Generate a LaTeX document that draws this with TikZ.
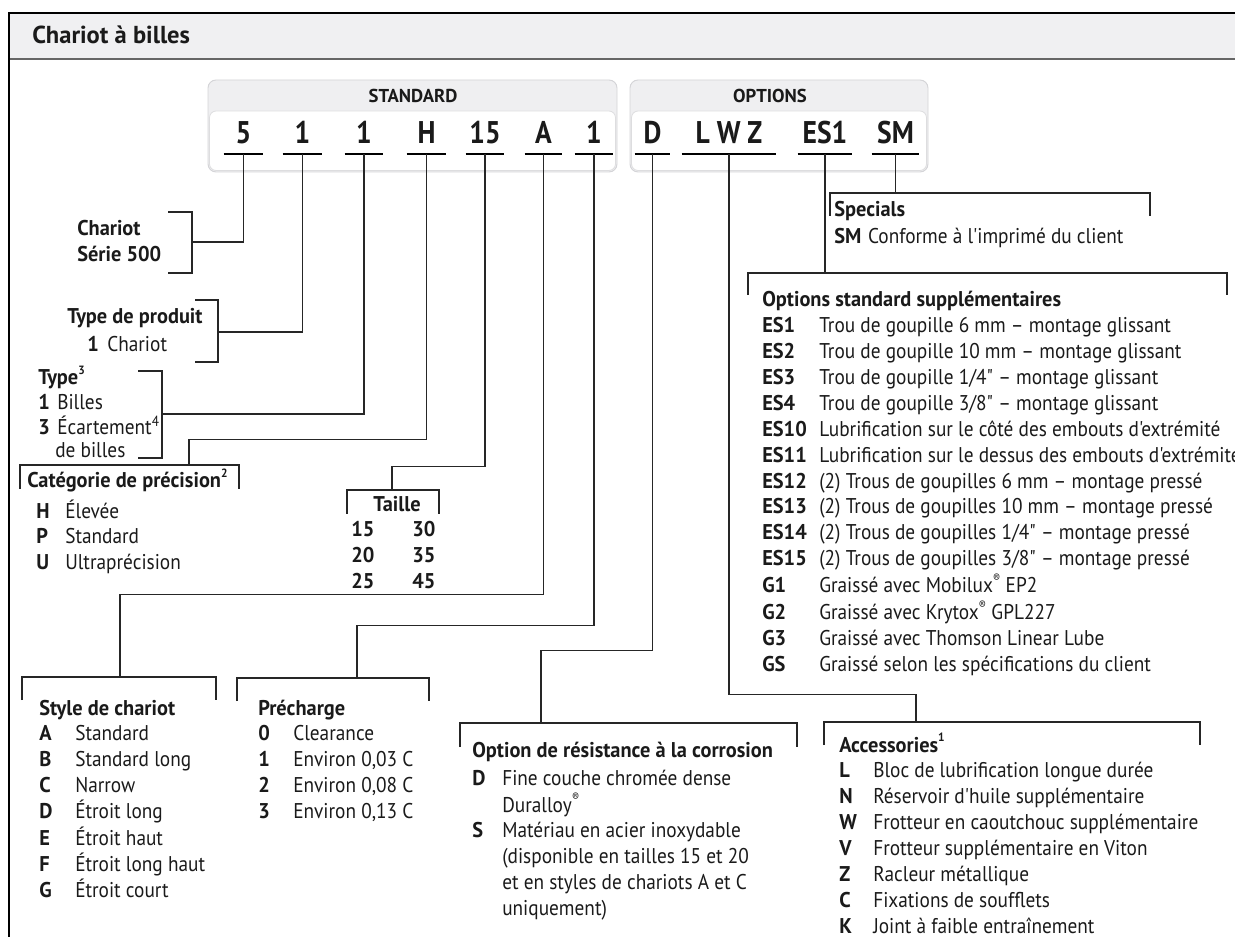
\documentclass[tikz,border=0pt]{standalone}
\usepackage{fontspec}
\setmainfont{PT Sans}[Ligatures=TeXOff,UprightFeatures={FakeStretch=0.905},BoldFeatures={FakeStretch=0.955}]
\newfontfamily\codefont{PT Sans}[Ligatures=TeXOff,FakeStretch=0.88]
\newfontfamily\titlefont{PT Sans Bold}[Ligatures=TeXOff]
\definecolor{barfill}{HTML}{F0F0F2}
\definecolor{boxfill}{HTML}{EFEFF1}
\definecolor{boxline}{HTML}{D4D4D7}
\definecolor{ink}{HTML}{1A1A1A}
\newcommand\LB[3]{\makebox[#1][l]{\bfseries #2}#3}
\newcommand\sups[1]{\raisebox{0.5em}{\fontsize{9}{9}\selectfont #1}}
\newcommand\supb[1]{\raisebox{0.42em}{\fontsize{11}{11}\selectfont #1}}
\newcommand\bodyfont{\fontsize{16}{19.4}\selectfont}
\tikzset{
  conn/.style={line width=0.8pt, draw=black!85},
  brk/.style={line width=0.8pt, draw=black!85},
  uline/.style={line width=1.4pt, draw=black},
  txt/.style={anchor=base west, inner sep=0pt, font=\bodyfont, text=ink},
  code/.style={anchor=base, inner sep=0pt, font=\fontsize{23.5}{28}\selectfont\codefont\bfseries, text=ink, text depth=7.5pt},
  hdr/.style={anchor=base, inner sep=0pt, font=\fontsize{14}{16}\selectfont\titlefont, text=ink},
  outerbox/.style={draw=boxline, fill=boxfill, rounded corners=6pt, line width=0.7pt},
  innerbox/.style={draw=boxline!80, fill=white, rounded corners=5pt, line width=0.6pt},
}
\begin{document}
\begin{tikzpicture}[x=0.75pt,y=-0.75pt]
\useasboundingbox (0,0) rectangle (1235,937);
% frame and title bar
\fill[barfill] (9,13) rectangle (1260,59);
\draw[black!60, line width=0.8pt] (9,59) -- (1260,59);
\draw[black, line width=1.8pt] (9,1000) -- (9,13) -- (1260,13);
\node[anchor=base west, inner sep=0pt, font=\fontsize{18.4}{22}\selectfont\titlefont, text=ink] (title) at (32,44) {Chariot à billes};

% code boxes
\draw[outerbox] (208,80) rectangle (617,172);
\draw[innerbox] (209.5,111) rectangle (615.5,170.5);
\draw[outerbox] (630,80) rectangle (928,172);
\draw[innerbox] (631.5,111) rectangle (926.5,170.5);
\node[hdr] (hstd) at (413,103) {STANDARD};
\node[hdr] (hopt) at (770,103) {OPTIONS};

% code characters
\node[code, minimum width=29.25pt] (c1) at (243.5,144) {5};
\node[code, minimum width=29.25pt] (c2) at (302.5,144) {1};
\node[code, minimum width=28.5pt] (c3) at (364,144) {1};
\node[code, minimum width=29.25pt] (c4) at (426.5,144) {H};
\node[code, minimum width=28.5pt] (c5) at (485,144) {15};
\node[code, minimum width=27.75pt] (c6) at (543.5,144) {A};
\node[code, minimum width=28.5pt] (c7) at (594,144) {1};
\node[code, minimum width=26.25pt] (c8) at (652.5,144) {D};
\node[code, minimum width=70.5pt] (c9) at (729,144) {L W Z};
\node[code, minimum width=40.5pt] (c10) at (825,144) {ES1};
\node[code, minimum width=35.25pt] (c11) at (895.5,144) {SM};
\foreach \c in {c1,c2,c3,c4,c5,c6,c7,c8,c9,c10,c11}
  \draw[uline] (\c.south west) -- (\c.south east);

% junction coordinates
\coordinate (j1) at (192,242);
\coordinate (j2) at (218,332);
\coordinate (j3) at (162,414);
\coordinate (j4) at (189,465);
\coordinate (j5) at (392,490);
\coordinate (j6) at (120,677);
\coordinate (j7) at (357,678);
\coordinate (j8) at (541,723);
\coordinate (j9) at (916,722);
\coordinate (j10) at (825,273);
\coordinate (j11) at (895.5,193);

% connectors
\draw[conn] (c1.south) |- (j1);
\draw[conn] (c2.south) |- (j2);
\draw[conn] (c3.south) |- (j3);
\draw[conn] (c4.south) -- ++(0,285) -| (j4);
\draw[conn] (c5.south) -- ++(0,312) -| (j5);
\draw[conn] (c6.south) -- ++(0,440) -| (j6);
\draw[conn] (c7.south) -- ++(0,471) -| (j7);
\draw[conn] (c8.south) -- ++(0,496) -| (j8);
\draw[conn] (c9.south) -- ++(0,540) -| (j9);
\draw[conn] (c10.south) -- (j10);
\draw[conn] (c11.south) -- (j11);

% brackets
\draw[brk] (168,212) -- (192,212) -- (192,273) -- (168,273);
\draw[brk] (195,300) -- (218,300) -- (218,362) -- (195,362);
\draw[brk] (138,371) -- (162,371) -- (162,458) -- (138,458);
\draw[brk] (20,489) -- (20,465) -- (239,465) -- (239,489);
\draw[brk] (347,514) -- (347,490) -- (439,490) -- (439,514);
\draw[brk] (22,700) -- (22,677) -- (216,677) -- (216,700);
\draw[brk] (237,701) -- (237,678) -- (429,678) -- (429,701);
\draw[brk] (460,747) -- (460,723) -- (797,723) -- (797,747);
\draw[brk] (824,745) -- (824,722) -- (1200,722) -- (1200,745);
\draw[brk] (748,295) -- (748,273) -- (1227,273) -- (1227,295);
\draw[brk] (830,216) -- (830,193) -- (1150,193) -- (1150,216);

% text blocks
\node[txt] (chariot) at (77,236) {\begin{tabular}[t]{@{}l@{}}\bfseries Chariot\\ \bfseries Série 500\end{tabular}};

\node[txt] (tp) at (67,324) {\bfseries Type de produit};
\node[txt] (tp1) at (87,352) {\LB{15pt}{1}{Chariot}};

\node[txt] (ty) at (38,385) {\bfseries Type\sups{3}};
\node[txt] (ty1) at (38,410) {\LB{14.25pt}{1}{Billes}};
\node[txt] (ty3) at (38,435) {\LB{14.25pt}{3}{Écartement\supb{4}}};
\node[txt] (ty3b) at (55,458) {de billes};

\node[txt] (cat) at (27,488) {\bfseries Catégorie de précision\sups{2}};
\node[txt] (catl) at (36,518) {\begin{tabular}[t]{@{}l@{}}\LB{21.75pt}{H}{Élevée}\\ \LB{21.75pt}{P}{Standard}\\ \LB{21.75pt}{U}{Ultraprécision}\end{tabular}};

\node[txt, anchor=base] (tai) at (397,512) {\bfseries Taille};
\node[txt] (tail) at (351,537) {\begin{tabular}[t]{@{}l@{}}\LB{45.75pt}{15}{\bfseries 30}\\ \LB{45.75pt}{20}{\bfseries 35}\\ \LB{45.75pt}{25}{\bfseries 45}\end{tabular}};

\node[txt] (sty) at (39,715) {\begin{tabular}[t]{@{}l@{}}\bfseries Style de chariot\\
 \LB{27pt}{A}{Standard}\\ \LB{27pt}{B}{Standard long}\\ \LB{27pt}{C}{Narrow}\\
 \LB{27pt}{D}{Étroit long}\\ \LB{27pt}{E}{Étroit haut}\\ \LB{27pt}{F}{Étroit long haut}\\
 \LB{27pt}{G}{Étroit court}\end{tabular}};

\node[txt] (pre) at (258,715) {\begin{tabular}[t]{@{}l@{}}\bfseries Précharge\\
 \LB{26.25pt}{0}{Clearance}\\ \LB{26.25pt}{1}{Environ 0,03 C}\\ \LB{26.25pt}{2}{Environ 0,08 C}\\
 \LB{26.25pt}{3}{Environ 0,13 C}\end{tabular}};

\node[txt] (cor) at (472,757) {\bfseries Option de résistance à la corrosion};
\node[txt] (corl) at (472,785) {\begin{tabular}[t]{@{}l@{}}\LB{22.5pt}{D}{Fine couche chromée dense}\\
 \LB{22.5pt}{}{Duralloy\sups{®}}\\ \LB{22.5pt}{S}{Matériau en acier inoxydable}\\
 \LB{22.5pt}{}{(disponible en tailles 15 et 20}\\ \LB{22.5pt}{}{et en styles de chariots A et C}\\
 \LB{22.5pt}{}{uniquement)}\end{tabular}};

\node[txt] (acc) at (839,752) {\begin{tabular}[t]{@{}l@{}}\bfseries Accessories\sups{1}\\
 \LB{25.5pt}{L}{Bloc de lubrification longue durée}\\ \LB{25.5pt}{N}{Réservoir d'huile supplémentaire}\\
 \LB{25.5pt}{W}{Frotteur en caoutchouc supplémentaire}\\ \LB{25.5pt}{V}{Frotteur supplémentaire en Viton}\\
 \LB{25.5pt}{Z}{Racleur métallique}\\ \LB{25.5pt}{C}{Fixations de soufflets}\\
 \LB{25.5pt}{K}{Joint à faible entraînement}\end{tabular}};

\node[txt] (opt) at (762,307) {\begin{tabular}[t]{@{}l@{}}\bfseries Options standard supplémentaires\\
 \LB{42.75pt}{ES1}{Trou de goupille 6 mm – montage glissant}\\
 \LB{42.75pt}{ES2}{Trou de goupille 10 mm – montage glissant}\\
 \LB{42.75pt}{ES3}{Trou de goupille 1/4" – montage glissant}\\
 \LB{42.75pt}{ES4}{Trou de goupille 3/8" – montage glissant}\\
 \LB{42.75pt}{ES10}{Lubrification sur le côté des embouts d'extrémité}\\
 \LB{42.75pt}{ES11}{Lubrification sur le dessus des embouts d'extrémité}\\
 \LB{42.75pt}{ES12}{(2) Trous de goupilles 6 mm – montage pressé}\\
 \LB{42.75pt}{ES13}{(2) Trous de goupilles 10 mm – montage pressé}\\
 \LB{42.75pt}{ES14}{(2) Trous de goupilles 1/4" – montage pressé}\\
 \LB{42.75pt}{ES15}{(2) Trous de goupilles 3/8" – montage pressé}\\
 \LB{42.75pt}{G1}{Graissé avec Mobilux\sups{®} EP2}\\
 \LB{42.75pt}{G2}{Graissé avec Krytox\sups{®} GPL227}\\
 \LB{42.75pt}{G3}{Graissé avec Thomson Linear Lube}\\
 \LB{42.75pt}{GS}{Graissé selon les spécifications du client}\end{tabular}};

\node[txt] (spc) at (834,217) {\bfseries Specials};
\node[txt] (spcl) at (834,244) {\textbf{SM}\hspace{5pt}Conforme à l'imprimé du client};
\end{tikzpicture}
\end{document}
